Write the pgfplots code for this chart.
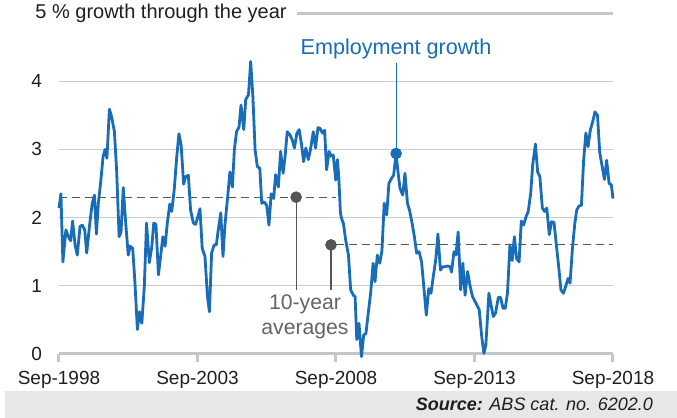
\documentclass[border=0pt]{standalone}
\usepackage{pgfplots}
\pgfplotsset{compat=1.18}
\usepackage{fontspec}
\setmainfont{Liberation Sans}
\definecolor{empblue}{RGB}{25,108,184}
\definecolor{gridgray}{RGB}{204,204,204}
\definecolor{axgray}{RGB}{198,198,198}
\definecolor{avggray}{RGB}{85,85,85}
\definecolor{txtgray}{RGB}{100,100,100}
\definecolor{bandgray}{RGB}{231,231,231}
\definecolor{txt}{RGB}{30,30,30}
\begin{document}
\begin{tikzpicture}
\path[use as bounding box] (0pt,0pt) rectangle (338.5pt,209pt);
\fill[bandgray] (2.5pt,0pt) rectangle (338.5pt,13.5pt);
\node[anchor=east,font=\fontsize{9}{10}\selectfont,text=txt] at (330pt,6.75pt) {\textbf{\textit{Source:}} \textit{ABS cat. no. 6202.0}};
\node[anchor=west,font=\fontsize{10}{12}\selectfont,text=txt,inner sep=0pt] at (17.5pt,202.5pt) {5 \% growth through the year};
\begin{axis}[at={(29.5pt,32pt)}, anchor=south west, scale only axis,
  width=277pt, height=170.5pt,
  xmin=0, xmax=20, ymin=0, ymax=5, clip=false,
  axis x line*=bottom, axis y line*=left,
  y axis line style={draw=none},
  x axis line style={axgray, line width=1.5pt, -},
  xtick={0,5,10,15,20},
  xticklabels={Sep-1998,Sep-2003,Sep-2008,Sep-2013,Sep-2018},
  ytick={0,1,2,3,4},
  yticklabels={0,1,2,3,4},
  tick align=outside,
  xtick style={axgray, line width=1.5pt},
  major tick length=4pt,
  ytick style={draw=none},
  ymajorgrids, grid style={gridgray, line width=0.6pt},
  tick label style={font=\fontsize{9.5}{11}\selectfont, text=txt},
  xticklabel style={yshift=-1pt},
  yticklabel style={xshift=-1pt},
]
\addplot[axgray, line width=1.5pt] coordinates {(8.59,5) (20,5)};
\addplot[avggray, line width=0.6pt, dash pattern=on 4pt off 2.5pt] coordinates {(0,2.3) (10,2.3)};
\addplot[avggray, line width=0.6pt, dash pattern=on 4pt off 2.5pt] coordinates {(10,1.6) (20,1.6)};
\addplot[avggray, line width=0.6pt, mark=*, mark size=2.6pt, mark indices={1}] coordinates {(8.56,2.3) (8.56,0.94)};
\addplot[avggray, line width=0.6pt, mark=*, mark size=2.6pt, mark indices={1}] coordinates {(9.82,1.6) (9.82,0.94)};
\addplot[empblue, line width=1.4pt, line join=round] coordinates {
(0,2.14) (0.07,2.35) (0.14,1.35) (0.25,1.82) (0.34,1.72) (0.42,1.66) (0.49,1.95) (0.58,1.60)
(0.66,1.45) (0.76,1.87) (0.84,1.89) (0.93,1.82) (1.0,1.48) (1.11,1.91) (1.2,2.21) (1.28,2.33)
(1.35,1.76) (1.42,2.21) (1.5,2.50) (1.59,2.89) (1.66,3.0) (1.73,2.87) (1.82,3.59) (1.9,3.48)
(2.0,3.26) (2.08,2.70) (2.17,1.72) (2.24,1.79) (2.32,2.44) (2.41,1.91) (2.5,1.45) (2.57,1.58)
(2.66,1.55) (2.74,1.06) (2.83,0.36) (2.91,0.62) (2.99,0.45) (3.08,0.99) (3.16,1.92) (3.26,1.34)
(3.35,1.57) (3.42,1.92) (3.5,1.90) (3.59,1.16) (3.67,1.44) (3.75,1.72) (3.83,1.58) (3.91,1.92)
(4.0,2.20) (4.07,2.09) (4.16,2.41) (4.25,2.89) (4.33,3.23) (4.41,3.06) (4.5,2.49) (4.57,2.60)
(4.67,2.62) (4.75,2.11) (4.85,1.92) (4.93,1.90) (5.01,2.01) (5.09,2.13) (5.17,1.55) (5.27,1.43)
(5.36,0.84) (5.43,0.62) (5.51,1.48) (5.6,1.60) (5.68,1.60) (5.75,1.82) (5.84,2.07) (5.92,1.43)
(5.99,1.89) (6.09,2.31) (6.17,2.67) (6.26,2.45) (6.33,2.99) (6.41,3.26) (6.5,3.33) (6.57,3.65)
(6.67,3.29) (6.74,3.73) (6.84,3.80) (6.92,4.29) (7.0,3.77) (7.08,2.99) (7.16,2.75) (7.25,2.72)
(7.32,2.21) (7.41,2.23) (7.5,2.18) (7.58,1.89) (7.66,2.35) (7.75,2.28) (7.82,2.63) (7.92,2.45)
(8.0,2.97) (8.09,2.65) (8.16,2.89) (8.24,3.26) (8.34,3.21) (8.42,3.14) (8.5,3.02) (8.59,3.24)
(8.67,3.29) (8.76,3.06) (8.83,2.82) (8.91,3.02) (9.0,2.85) (9.08,3.0) (9.18,3.26) (9.26,3.02)
(9.35,3.32) (9.42,3.31) (9.51,3.24) (9.59,3.28) (9.66,2.70) (9.75,2.97) (9.82,2.90) (9.9,2.92)
(9.99,2.55) (10.05,2.85) (10.1,2.6) (10.16,2.07) (10.2,1.99) (10.27,1.91) (10.35,1.67) (10.45,1.45)
(10.53,0.94) (10.63,0.86) (10.69,0.84) (10.75,0.21) (10.83,0.45) (10.92,-0.04) (11.0,0.28) (11.08,0.30)
(11.17,0.62) (11.25,0.89) (11.34,1.33) (11.41,1.06) (11.49,1.45) (11.58,1.33) (11.66,1.52) (11.74,2.21)
(11.83,2.04) (11.91,2.50) (12.01,2.58) (12.08,2.62) (12.17,2.94) (12.23,2.70) (12.31,2.43) (12.41,2.33)
(12.49,2.65) (12.58,2.21) (12.66,2.10) (12.75,1.91) (12.83,1.72) (12.91,1.48) (13.0,1.50) (13.09,1.35)
(13.18,0.94) (13.26,0.57) (13.35,0.96) (13.43,0.89) (13.51,1.13) (13.6,1.38) (13.68,1.76) (13.77,1.23)
(13.85,1.28) (13.93,1.28) (14.03,1.29) (14.12,1.28) (14.17,1.20) (14.26,1.50) (14.33,1.45) (14.41,1.79)
(14.5,0.94) (14.58,1.33) (14.66,0.86) (14.75,1.21) (14.85,0.98) (14.93,0.84) (15.02,0.77) (15.11,0.70)
(15.17,0.65) (15.26,0.26) (15.34,0.01) (15.41,0.13) (15.52,0.89) (15.61,0.69) (15.68,0.55) (15.76,0.60)
(15.86,0.83) (15.94,0.83) (16.03,0.67) (16.11,0.67) (16.19,0.89) (16.28,1.60) (16.36,1.37) (16.44,1.72)
(16.52,1.40) (16.61,1.35) (16.69,1.95) (16.77,1.89) (16.86,2.01) (16.94,2.09) (17.03,2.36) (17.1,2.77)
(17.2,3.08) (17.28,2.67) (17.36,2.60) (17.45,2.14) (17.53,2.09) (17.61,2.14) (17.7,1.75) (17.78,1.94)
(17.87,1.93) (17.95,1.62) (18.04,1.28) (18.12,0.94) (18.21,0.89) (18.29,0.99) (18.38,1.11) (18.45,1.04)
(18.53,1.52) (18.62,1.91) (18.69,2.11) (18.77,2.17) (18.86,2.18) (18.94,2.84) (19.02,3.24) (19.1,3.04)
(19.18,3.28) (19.27,3.41) (19.35,3.55) (19.44,3.50) (19.52,2.96) (19.6,2.77) (19.69,2.56) (19.77,2.84)
(19.86,2.50) (19.94,2.48) (20.0,2.28)
};
\addplot[empblue, line width=0.6pt, mark=*, mark size=2.6pt, mark indices={1}] coordinates {(12.17,2.94) (12.17,4.27)};
\node[text=empblue, font=\fontsize{10.8}{13}\selectfont, anchor=south, inner sep=0pt] at (axis cs:12.17,4.32) {Employment growth};
\node[text=txtgray, font=\fontsize{10.6}{12.5}\selectfont, align=center, anchor=north, inner sep=0pt] at (axis cs:8.88,0.88) {10-year\\averages};
\end{axis}
\end{tikzpicture}
\end{document}
